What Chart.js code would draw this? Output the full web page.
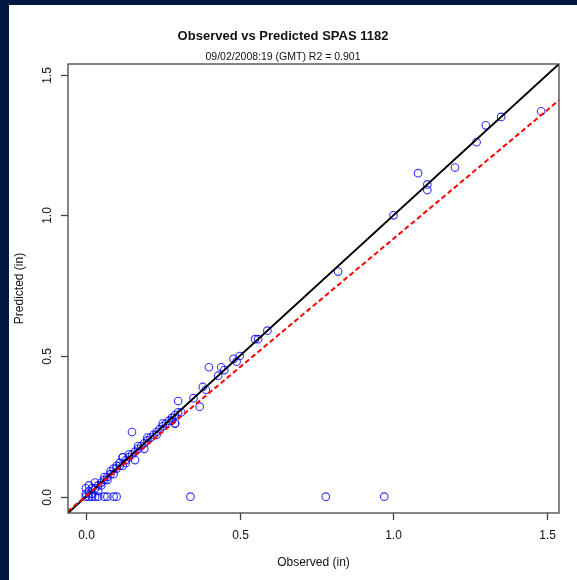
<!DOCTYPE html>
<html lang="en">
<head>
<meta charset="UTF-8">
<title>Observed vs Predicted SPAS 1182</title>
<script src="https://cdn.jsdelivr.net/npm/chart.js"></script>
<style>
  html, body { margin: 0; padding: 0; background: #fff; }
  #wrap { width: 577px; height: 580px; }
</style>
</head>
<body>
<div id="wrap"><canvas id="myChart" width="577" height="580"></canvas></div>
<script>
// observed vs predicted values (in)
const observed = [
  1.48, 1.35, 1.30, 1.27, 1.20, 1.11, 1.11, 1.08, 1.00, 0.82,
  0.59, 0.55, 0.56, 0.50, 0.48, 0.49, 0.44, 0.45, 0.40, 0.43,
  0.38, 0.39, 0.37, 0.35, 0.30, 0.29, 0.15, 0.16, 0.12,
  0.34, 0.78, 0.97, 0.00, 0.01, 0.02, 0.03, 0.04, 0.06, 0.07, 0.09, 0.10,
  0.00, 0.00, 0.01, 0.01, 0.02, 0.02, 0.03, 0.03, 0.04, 0.04,
  0.05, 0.05, 0.06, 0.06, 0.07, 0.07, 0.08, 0.08, 0.09, 0.09,
  0.10, 0.10, 0.11, 0.11, 0.12, 0.12, 0.13, 0.13, 0.14, 0.14,
  0.15, 0.16, 0.17, 0.17, 0.18, 0.19, 0.19, 0.20, 0.20, 0.21,
  0.22, 0.23, 0.23, 0.24, 0.25, 0.25, 0.26, 0.27, 0.28, 0.28,
  0.29, 0.29, 0.30, 0.31
];
const predicted = [
  1.37, 1.35, 1.32, 1.26, 1.17, 1.11, 1.09, 1.15, 1.00, 0.80,
  0.59, 0.56, 0.56, 0.50, 0.49, 0.48, 0.46, 0.45, 0.46, 0.43,
  0.39, 0.38, 0.32, 0.35, 0.34, 0.26, 0.23, 0.13, 0.14,
  0.00, 0.00, 0.00, 0.00, 0.00, 0.00, 0.00, 0.00, 0.00, 0.00, 0.00, 0.00,
  0.01, 0.03, 0.02, 0.04, 0.01, 0.03, 0.03, 0.05, 0.04, 0.02,
  0.05, 0.04, 0.06, 0.07, 0.07, 0.06, 0.08, 0.09, 0.08, 0.10,
  0.10, 0.11, 0.11, 0.12, 0.11, 0.14, 0.13, 0.12, 0.14, 0.15,
  0.15, 0.16, 0.17, 0.18, 0.18, 0.19, 0.17, 0.20, 0.21, 0.21,
  0.22, 0.22, 0.23, 0.24, 0.25, 0.26, 0.26, 0.27, 0.28, 0.27,
  0.29, 0.26, 0.30, 0.30
];
const tickValues = [0, 0.5, 1.0, 1.5];
const tickLabels = ['0.0', '0.5', '1.0', '1.5'];
// fitted line: predicted = slope * observed + intercept
const fitSlope = 0.915;
const fitIntercept = 0.002;
const lineEnds = [-0.1, 1.6];

const axisMin = -0.058;
const axisMax = 1.538;

const points = observed.map((x, i) => ({ x: x, y: predicted[i] }));
const oneToOne = lineEnds.map(x => ({ x: x, y: x }));
const fitLine = lineEnds.map(x => ({ x: x, y: fitSlope * x + fitIntercept }));

const FONT = '"Liberation Sans", Arial, sans-serif';

// R style frame: box, outward ticks, rotated y labels, titles
const rFrame = {
  id: 'rFrame',
  beforeDraw(chart) {
    const c = chart.ctx;
    c.save();
    c.fillStyle = '#fff';
    c.fillRect(0, 0, chart.width, chart.height);
    c.fillStyle = '#00173f';
    c.fillRect(0, 0, chart.width, 5);
    c.fillRect(0, 0, 9, chart.height);
    c.restore();
  },
  afterDraw(chart) {
    const c = chart.ctx;
    const a = chart.chartArea;
    const xs = chart.scales.x, ys = chart.scales.y;
    c.save();
    c.strokeStyle = '#444';
    c.lineWidth = 1.3;
    c.strokeRect(a.left, a.top, a.right - a.left, a.bottom - a.top);

    c.fillStyle = '#111';
    c.font = '12px ' + FONT;
    tickValues.forEach((v, i) => {
      const px = Math.round(xs.getPixelForValue(v)) + 0.5;
      c.beginPath();
      c.moveTo(px, a.bottom);
      c.lineTo(px, a.bottom + 7);
      c.stroke();
      c.textAlign = 'center';
      c.textBaseline = 'middle';
      c.fillText(tickLabels[i], px, a.bottom + 23);

      const py = Math.round(ys.getPixelForValue(v)) + 0.5;
      c.beginPath();
      c.moveTo(a.left, py);
      c.lineTo(a.left - 7, py);
      c.stroke();
      c.save();
      c.translate(a.left - 20, py);
      c.rotate(-Math.PI / 2);
      c.fillText(tickLabels[i], 0, 0);
      c.restore();
    });

    c.textAlign = 'center';
    c.textBaseline = 'middle';
    c.font = '12px ' + FONT;
    c.fillText('Observed (in)', (a.left + a.right) / 2, 563);
    c.save();
    c.translate(20, (a.top + a.bottom) / 2);
    c.rotate(-Math.PI / 2);
    c.fillText('Predicted (in)', 0, 0);
    c.restore();

    c.font = 'bold 13px ' + FONT;
    c.fillText('Observed vs Predicted SPAS 1182', 283, 36);
    c.font = '10.5px ' + FONT;
    c.fillText('09/02/2008:19 (GMT) R2 = 0.901', 283, 57);
    c.restore();
  }
};

const ctx = document.getElementById('myChart');
new Chart(ctx, {
  type: 'scatter',
  data: {
    datasets: [
      {
        label: 'fit',
        type: 'line',
        data: fitLine,
        borderColor: '#ff0000',
        borderWidth: 2,
        borderDash: [5, 3],
        pointRadius: 0,
        fill: false,
        order: 0
      },
      {
        label: '1:1',
        type: 'line',
        data: oneToOne,
        borderColor: '#000',
        borderWidth: 2,
        pointRadius: 0,
        fill: false,
        order: 1
      },
      {
        label: 'obs',
        data: points,
        pointStyle: 'circle',
        pointRadius: 3.8,
        pointBorderWidth: 1.1,
        borderColor: 'rgba(0,0,255,0.8)',
        backgroundColor: 'rgba(0,0,0,0)',
        order: 2
      }
    ]
  },
  options: {
    responsive: false,
    animation: false,
    events: [],
    layout: { padding: { left: 68, top: 64, right: 18, bottom: 67 } },
    plugins: { legend: { display: false }, tooltip: { enabled: false } },
    scales: {
      x: { type: 'linear', min: axisMin, max: axisMax, display: false },
      y: { type: 'linear', min: axisMin, max: axisMax, display: false }
    }
  },
  plugins: [rFrame]
});
</script>
</body>
</html>
